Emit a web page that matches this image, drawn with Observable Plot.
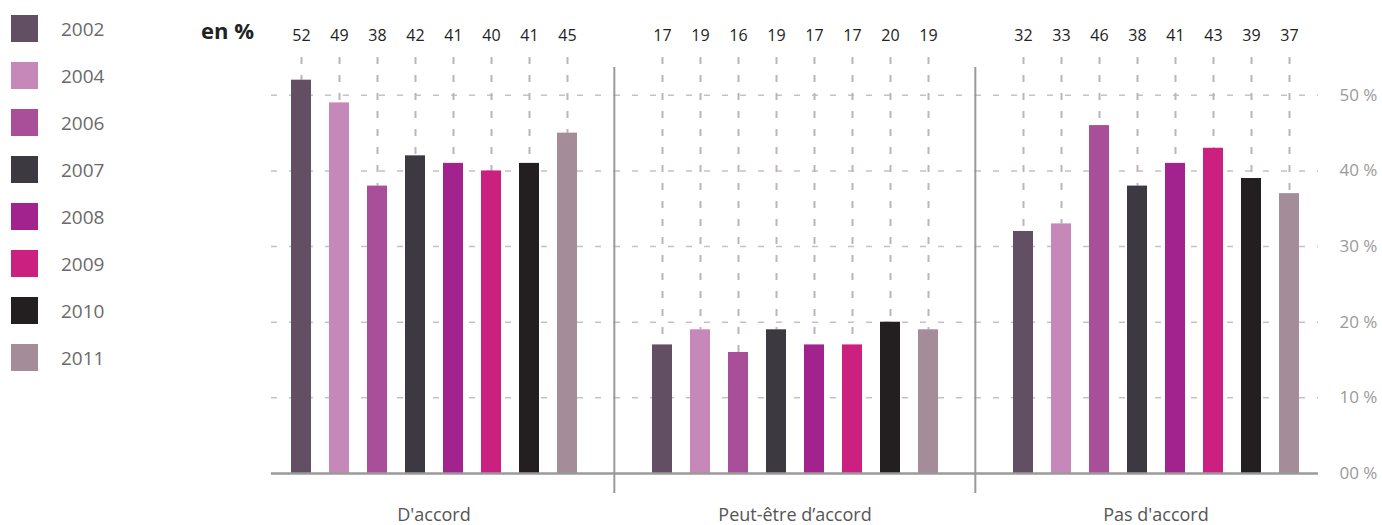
<!DOCTYPE html>
<html>
<head>
<meta charset="utf-8">
<script src="https://cdn.jsdelivr.net/npm/d3@7"></script>
<script src="https://cdn.jsdelivr.net/npm/@observablehq/plot@0.6"></script>
<style>
  html, body { margin: 0; padding: 0; background: #fff; }
  body { position: relative; width: 1382px; height: 525px; overflow: hidden; font-family: "Open Sans", sans-serif; }
  #chart { position: absolute; left: 0; top: 0; }
  #legend { position: absolute; left: 11px; top: 15px; }
  .row { display: flex; align-items: center; height: 27px; margin-bottom: 20px; }
  .sw { width: 27px; height: 27px; margin-right: 23px; }
  .lab { font-size: 19px; color: #6a6a6a; font-weight: 400; }
  #unit { position: absolute; left: 201px; top: 15px; font-size: 22px; font-weight: 700; color: #222; }
</style>
</head>
<body>
<div id="chart"></div>
<div id="legend"></div>
<div id="unit">en %</div>
<script>
const groups = ["D'accord", "Peut-être d’accord", "Pas d'accord"];
const years = ["2002", "2004", "2006", "2007", "2008", "2009", "2010", "2011"];
const dAccord = [52, 49, 38, 42, 41, 40, 41, 45];
const peutEtre = [17, 19, 16, 19, 17, 17, 20, 19];
const pasDAccord = [32, 33, 46, 38, 41, 43, 39, 37];
const colors = ["#634f63", "#c688b8", "#a94f9a", "#3c3a40", "#a2238e", "#cc2080", "#231f20", "#a48c98"];
const yTicks = [0, 10, 20, 30, 40, 50];
const yTickLabels = ["00 %", "10 %", "20 %", "30 %", "40 %", "50 %"];

const seriesByGroup = [dAccord, peutEtre, pasDAccord];
const data = groups.flatMap((g, gi) => years.map((y, i) => ({group: g, year: y, value: seriesByGroup[gi][i]})));

const W = 1382, H = 525, mL = 252, mR = 46;
const fxBand = (W - mL - mR) / groups.length;
const gridFor = (g) => yTicks.filter(t => t > 0).map(t => ({group: g, t}));
const baseFor = (g) => [{group: g, t: 0}];
const gridStyle = {stroke: "#c9bfc9", strokeWidth: 1.5, strokeDasharray: "6 12"};
const baseStyle = {stroke: "#9a9a9a", strokeWidth: 2.5};

const chart = Plot.plot({
  width: W,
  height: H,
  marginLeft: mL,
  marginRight: mR,
  marginTop: 57,
  marginBottom: 52,
  style: {fontFamily: "'Open Sans', sans-serif", background: "transparent"},
  fx: {domain: groups, padding: 0},
  x: {domain: years, paddingInner: 0.476, paddingOuter: 0.967, axis: null},
  y: {domain: [0, 55], axis: null},
  color: {domain: years, range: colors},
  marks: [
    Plot.ruleY(gridFor(groups[0]), {fx: "group", y: "t", insetLeft: 18, ...gridStyle}),
    Plot.ruleY(gridFor(groups[1]), {fx: "group", y: "t", ...gridStyle}),
    Plot.ruleY(gridFor(groups[2]), {fx: "group", y: "t", insetRight: 18, ...gridStyle}),
    Plot.ruleX(data, {fx: "group", x: "year", y1: 55, y2: "value", stroke: "#bdb3bd", strokeWidth: 2, strokeDasharray: "7 11"}),
    Plot.barY(data, {fx: "group", x: "year", y: "value", fill: "year"}),
    Plot.ruleY(baseFor(groups[0]), {fx: "group", y: "t", insetLeft: 18, ...baseStyle}),
    Plot.ruleY(baseFor(groups[1]), {fx: "group", y: "t", ...baseStyle}),
    Plot.ruleY(baseFor(groups[2]), {fx: "group", y: "t", insetRight: 18, ...baseStyle}),
    Plot.ruleX(groups.slice(1), {fx: d => d, x: null, y1: -2.64, y2: 53.68, dx: -fxBand / 2, stroke: "#9a9a9a", strokeWidth: 2}),
    Plot.text(data, {fx: "group", x: "year", text: "value", frameAnchor: "top", lineAnchor: "middle", dy: -22, fontSize: 16, fontWeight: 500, fill: "#222"}),
    Plot.axisY({anchor: "right", ticks: yTicks, tickFormat: (d) => yTickLabels[yTicks.indexOf(d)], tickSize: 0, tickPadding: 3, fontSize: 17, fill: "#9a9a9a", label: null, textAnchor: "start"}),
    Plot.axisFx({anchor: "bottom", tickSize: 0, tickPadding: 35, fontSize: 18, fill: "#555", label: null})
  ]
});
document.getElementById("chart").appendChild(chart);

const legend = document.getElementById("legend");
years.forEach((y, i) => {
  const row = document.createElement("div");
  row.className = "row";
  row.innerHTML = `<div class="sw" style="background:${colors[i]}"></div><div class="lab">${y}</div>`;
  legend.appendChild(row);
});
</script>
</body>
</html>
